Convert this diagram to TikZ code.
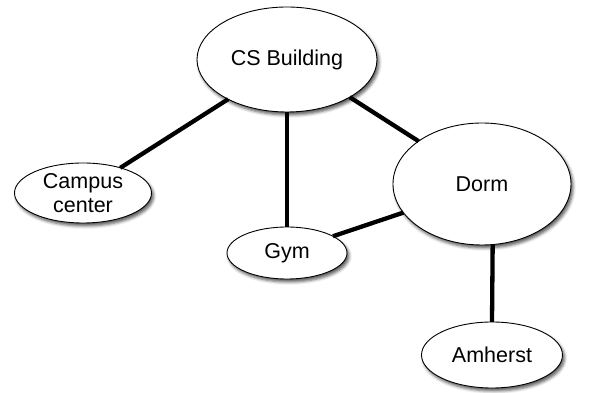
\documentclass[tikz,border=0pt]{standalone}
\usepackage{fontspec}
\setmainfont{Liberation Sans}
\usetikzlibrary{shapes.geometric,shadows.blur}
\begin{document}
\begin{tikzpicture}[x=1pt,y=1pt,
  place/.style={ellipse,draw=black,line width=0.9pt,fill=white,inner sep=0pt,outer sep=0pt,
    align=center,font=\fontsize{21.5}{24}\selectfont,
    blur shadow={shadow xshift=2pt,shadow yshift=-3pt,shadow blur radius=3pt,shadow opacity=65}},
  link/.style={line width=4.3pt,black}]
\useasboundingbox (0,0) rectangle (590,393);
\node[place,minimum width=180pt,minimum height=105pt] (cs) at (287,333.5) {CS Building};
\node[place,minimum width=137pt,minimum height=60pt] (cc) at (83,200) {Campus\\center};
\node[place,minimum width=120pt,minimum height=52pt] (gym) at (287,140) {Gym};
\node[place,minimum width=178pt,minimum height=122pt] (dorm) at (482,209) {Dorm};
\node[place,minimum width=141pt,minimum height=66pt] (am) at (492,38) {Amherst};
\draw[link] (cs.-146) -- (cc.34);
\draw[link] (cs.south) -- (gym.north);
\draw[link] (cs.-31) -- (dorm.146);
\draw[link] (gym.20) -- (dorm.200);
\draw[link] (dorm.-80.7) -- (am.north);
\end{tikzpicture}
\end{document}
